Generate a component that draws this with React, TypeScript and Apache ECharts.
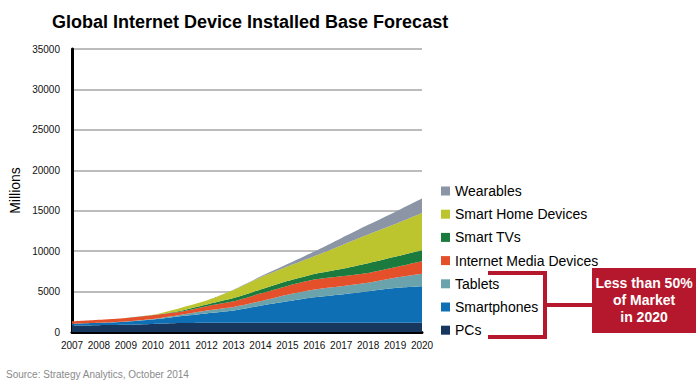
import React, { useEffect, useRef } from "react";
import * as echarts from "echarts";

const years = ["2007", "2008", "2009", "2010", "2011", "2012", "2013", "2014", "2015", "2016", "2017", "2018", "2019", "2020"];
const pcs = [800, 850, 900, 1000, 1100, 1150, 1150, 1150, 1150, 1150, 1150, 1150, 1150, 1150];
const smartphones = [200, 280, 380, 550, 850, 1150, 1500, 2100, 2650, 3150, 3500, 3900, 4300, 4500];
const tablets = [0, 0, 10, 50, 150, 350, 450, 550, 800, 950, 1000, 1030, 1250, 1550];
const internetMedia = [300, 370, 450, 480, 400, 550, 700, 950, 1100, 1230, 1240, 1230, 1300, 1550];
const smartTVs = [0, 0, 0, 20, 100, 200, 400, 500, 600, 700, 900, 1200, 1300, 1350];
const smartHome = [0, 0, 0, 20, 350, 500, 1000, 1500, 1800, 2190, 2910, 3540, 4050, 4630];
const wearables = [0, 0, 0, 0, 0, 0, 30, 100, 300, 580, 900, 1200, 1500, 1770];

const seriesDefs = [
  { name: "PCs", data: pcs, color: "#17375e" },
  { name: "Smartphones", data: smartphones, color: "#0f6fb5" },
  { name: "Tablets", data: tablets, color: "#6aa3ab" },
  { name: "Internet Media Devices", data: internetMedia, color: "#e4502a" },
  { name: "Smart TVs", data: smartTVs, color: "#1b7a3d" },
  { name: "Smart Home Devices", data: smartHome, color: "#bcc42e" },
  { name: "Wearables", data: wearables, color: "#8b95a5" },
];

const FONT = "'Liberation Sans', Arial, sans-serif";
const RED = "#b5182d";

export default function App() {
  const ref = useRef<HTMLDivElement>(null);
  useEffect(() => {
    if (!ref.current) return;
    const chart = echarts.init(ref.current, undefined, { renderer: "svg" });
    chart.setOption({
      animation: false,
      backgroundColor: "#ffffff",
      textStyle: { fontFamily: FONT },
      title: {
        text: "Global Internet Device Installed Base Forecast",
        left: 52,
        top: 13,
        padding: 0,
        textStyle: { fontFamily: FONT, fontSize: 18, fontWeight: "bold", color: "#000" },
      },
      legend: {
        orient: "vertical",
        left: 441,
        top: 184,
        padding: 0,
        itemWidth: 9,
        itemHeight: 9,
        itemGap: 9.2,
        icon: "rect",
        data: seriesDefs.map((s) => s.name).reverse(),
        textStyle: { fontFamily: FONT, fontSize: 14, color: "#000", lineHeight: 14 },
      },
      grid: { left: 72, right: 278, top: 49, bottom: 54 },
      xAxis: {
        type: "category",
        boundaryGap: false,
        data: years,
        axisLine: { lineStyle: { color: "#000", width: 3 } },
        axisTick: { show: false },
        axisLabel: { fontFamily: FONT, fontSize: 10, color: "#111", margin: 8, interval: 0 },
      },
      yAxis: {
        type: "value",
        min: 0,
        max: 35000,
        interval: 5000,
        name: "Millions",
        nameLocation: "middle",
        nameGap: 50,
        nameTextStyle: { fontFamily: FONT, fontSize: 14, color: "#000" },
        axisLine: { show: true, lineStyle: { color: "#000", width: 3 } },
        axisTick: { show: false },
        axisLabel: { fontFamily: FONT, fontSize: 10, color: "#111", margin: 12, formatter: (v: number) => String(v) },
        splitLine: { lineStyle: { color: "#a6a6a6", width: 1.5 } },
      },
      series: seriesDefs.map((s) => ({
        name: s.name,
        type: "line",
        stack: "total",
        data: s.data,
        smooth: 0.2,
        showSymbol: false,
        symbol: "none",
        lineStyle: { width: 0 },
        itemStyle: { color: s.color },
        areaStyle: { color: s.color, opacity: 1 },
      })),
      graphic: [
        { type: "rect", shape: { x: 488, y: 271, width: 59, height: 4 }, style: { fill: RED } },
        { type: "rect", shape: { x: 543, y: 271, width: 4, height: 68 }, style: { fill: RED } },
        { type: "rect", shape: { x: 488, y: 335, width: 59, height: 4 }, style: { fill: RED } },
        { type: "rect", shape: { x: 547, y: 303, width: 45, height: 4 }, style: { fill: RED } },
        { type: "rect", shape: { x: 592, y: 268, width: 104, height: 65 }, style: { fill: RED } },
        {
          type: "text",
          x: 644,
          y: 300,
          style: {
            text: "Less than 50%\nof Market\nin 2020",
            fill: "#fff",
            fontWeight: "bold",
            fontSize: 14,
            fontFamily: FONT,
            lineHeight: 17,
            align: "center",
            verticalAlign: "middle",
          },
        },
        {
          type: "text",
          x: 6,
          y: 374,
          style: {
            text: "Source: Strategy Analytics, October 2014",
            fill: "#8a8a8a",
            fontSize: 10,
            fontFamily: FONT,
            verticalAlign: "middle",
          },
        },
      ],
    });
    return () => chart.dispose();
  }, []);
  return <div ref={ref} style={{ width: 700, height: 386, position: "absolute", left: 0, top: 0 }} />;
}
